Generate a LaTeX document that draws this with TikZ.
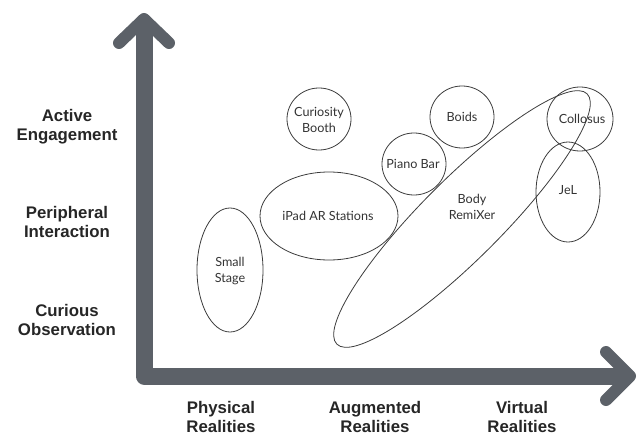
\documentclass[tikz,border=0pt]{standalone}
\usepackage{fontspec}
\setmainfont{Liberation Sans}
\newfontfamily\innerfont{Lato}
\definecolor{axisgray}{RGB}{92,97,104}
\definecolor{ringgray}{RGB}{60,60,60}
\tikzset{
  axisline/.style={draw=axisgray, line width=17pt},
  chevron/.style={draw=axisgray, line width=12pt, line cap=round, line join=round},
  axislabel/.style={font=\fontsize{16.8}{19}\selectfont\bfseries, align=center, text=black!85},
  ring/.style={draw=ringgray, line width=0.8pt},
  itemlabel/.style={font=\innerfont\fontsize{12.6}{16}\selectfont, align=center, text=black!80}
}
\begin{document}
\begin{tikzpicture}[x=1pt,y=-1pt]
\useasboundingbox (0,0) rectangle (639,436);
% axes
\coordinate (vtop) at (144,24);
\coordinate (corner) at (144,376);
\coordinate (hend) at (624,376);
\draw[axisline, line join=round] (vtop) -- (corner) -- (hend);
\coordinate (vtip) at (144,19);
\coordinate (vl) at (119,43);
\coordinate (vr) at (169,43);
\draw[chevron] (vl) -- (vtip) -- (vr);
\coordinate (htip) at (630,376);
\coordinate (hu) at (606,352);
\coordinate (hd) at (606,400);
\draw[chevron] (hu) -- (htip) -- (hd);
% axis labels
\node[axislabel] (ae) at (67,127) {Active\\Engagement};
\node[axislabel] (pi) at (67,222) {Peripheral\\Interaction};
\node[axislabel] (co) at (67,320) {Curious\\Observation};
\node[axislabel] (pr) at (221,417) {Physical\\Realities};
\node[axislabel] (ar) at (375,417) {Augmented\\Realities};
\node[axislabel] (vr2) at (522,417) {Virtual\\Realities};
% items
\draw[ring, rotate around={45:(462,219)}] (462,219) ellipse [x radius=177, y radius=40];
\node[itemlabel] (body) at (472,207) {Body\\RemiXer};
\draw[ring] (319,119) ellipse [x radius=32, y radius=31];
\node[itemlabel] (cb) at (319,120) {Curiosity\\Booth};
\draw[ring] (462,117) ellipse [x radius=32, y radius=31];
\node[itemlabel] (boids) at (462,117) {Boids};
\draw[ring] (414,164) ellipse [x radius=32, y radius=31];
\node[itemlabel] (piano) at (413,164) {Piano Bar};
\draw[ring] (568,192) ellipse [x radius=32, y radius=50];
\node[itemlabel] (jel) at (568,190) {JeL};
\draw[ring] (580,119) ellipse [x radius=33, y radius=32];
\node[itemlabel] (coll) at (582,119) {Collosus};
\draw[ring] (329,216) ellipse [x radius=69, y radius=44];
\node[itemlabel] (ipad) at (328,216) {iPad AR Stations};
\draw[ring] (230,270) ellipse [x radius=33, y radius=62];
\node[itemlabel] (ss) at (230,271) {Small\\Stage};
\end{tikzpicture}
\end{document}
